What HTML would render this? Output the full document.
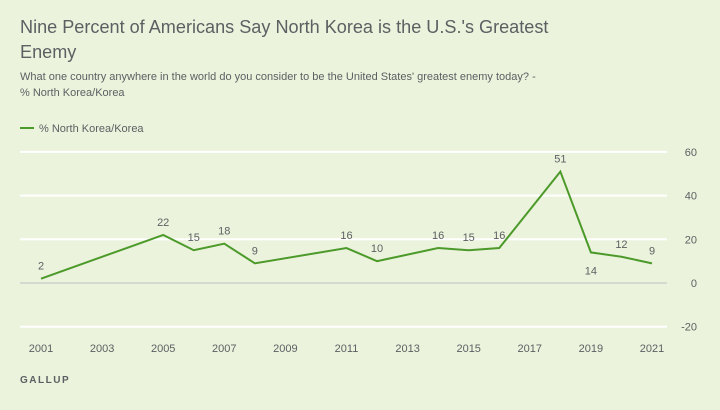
<!DOCTYPE html>
<html><head><meta charset="utf-8"><style>
body{margin:0;background:#ecf3dd;}
#wrap{position:relative;width:720px;height:410px;background:#ecf3dd;font-family:"Liberation Sans",sans-serif;overflow:hidden}
.t{position:absolute;left:20px;top:15px;font-size:18.1px;color:#5d6062;line-height:25px;width:560px}
.s{position:absolute;left:20px;top:69px;font-size:11px;color:#5d6062;line-height:16px}
.g{position:absolute;left:20px;top:375px;font-size:10px;color:#5d6062;letter-spacing:1.5px;font-weight:bold}
svg{position:absolute;left:0;top:0}
</style></head><body>
<div id="wrap">
<div class="t">Nine Percent of Americans Say North Korea is the U.S.'s Greatest Enemy</div>
<div class="s">What one country anywhere in the world do you consider to be the United States' greatest enemy today? -<br>% North Korea/Korea</div>
<div class="g">GALLUP</div>
<svg id="c" width="720" height="410">
<g><line x1="20" y1="128" x2="34" y2="128" stroke="#4c9a2a" stroke-width="2"/><text x="39" y="132" font-size="11" fill="#5d6062">% North Korea/Korea</text></g>
</svg>
</div>
<script>
const years=[2001,2005,2006,2007,2008,2011,2012,2014,2015,2016,2018,2019,2020,2021];
const values=[2,22,15,18,9,16,10,16,15,16,51,14,12,9];
const yTicks=[60,40,20,0,-20];
const xTicks=[2001,2003,2005,2007,2009,2011,2013,2015,2017,2019,2021];
const below=[2019];
const svg=document.getElementById('c');const NS='http://www.w3.org/2000/svg';
const x=y=>41+(y-2001)*(652-41)/20;
const yS=v=>283-v*2.185;
function mk(t,a){const e=document.createElementNS(NS,t);for(const k in a)e.setAttribute(k,a[k]);svg.appendChild(e);return e;}
yTicks.forEach(v=>{
 const l=mk('line',{x1:20,x2:667,y1:yS(v),y2:yS(v),stroke:v===0?'#d6d9cf':'#ffffff','stroke-width':2});
 
 
 const t=mk('text',{x:697,y:yS(v)+4,'font-size':11,fill:'#5d6062','text-anchor':'end'});t.textContent=v;
 
 
});
xTicks.forEach(v=>{
 const t=mk('text',{x:x(v),y:352,'font-size':11,fill:'#5d6062','text-anchor':'middle'});t.textContent=v;
 
 
});
const p=mk('polyline',{points:years.map((y,i)=>x(y)+','+yS(values[i])).join(' '),fill:'none',stroke:'#4c9a2a','stroke-width':2,'stroke-linejoin':'miter'});


years.forEach((y,i)=>{
 const b=below.includes(y);
 const t=mk('text',{x:x(y),y:b?yS(values[i])+22:yS(values[i])-9,'font-size':11,fill:'#5d6062','text-anchor':'middle'});t.textContent=values[i];
 
 
});
</script>
</body></html>
